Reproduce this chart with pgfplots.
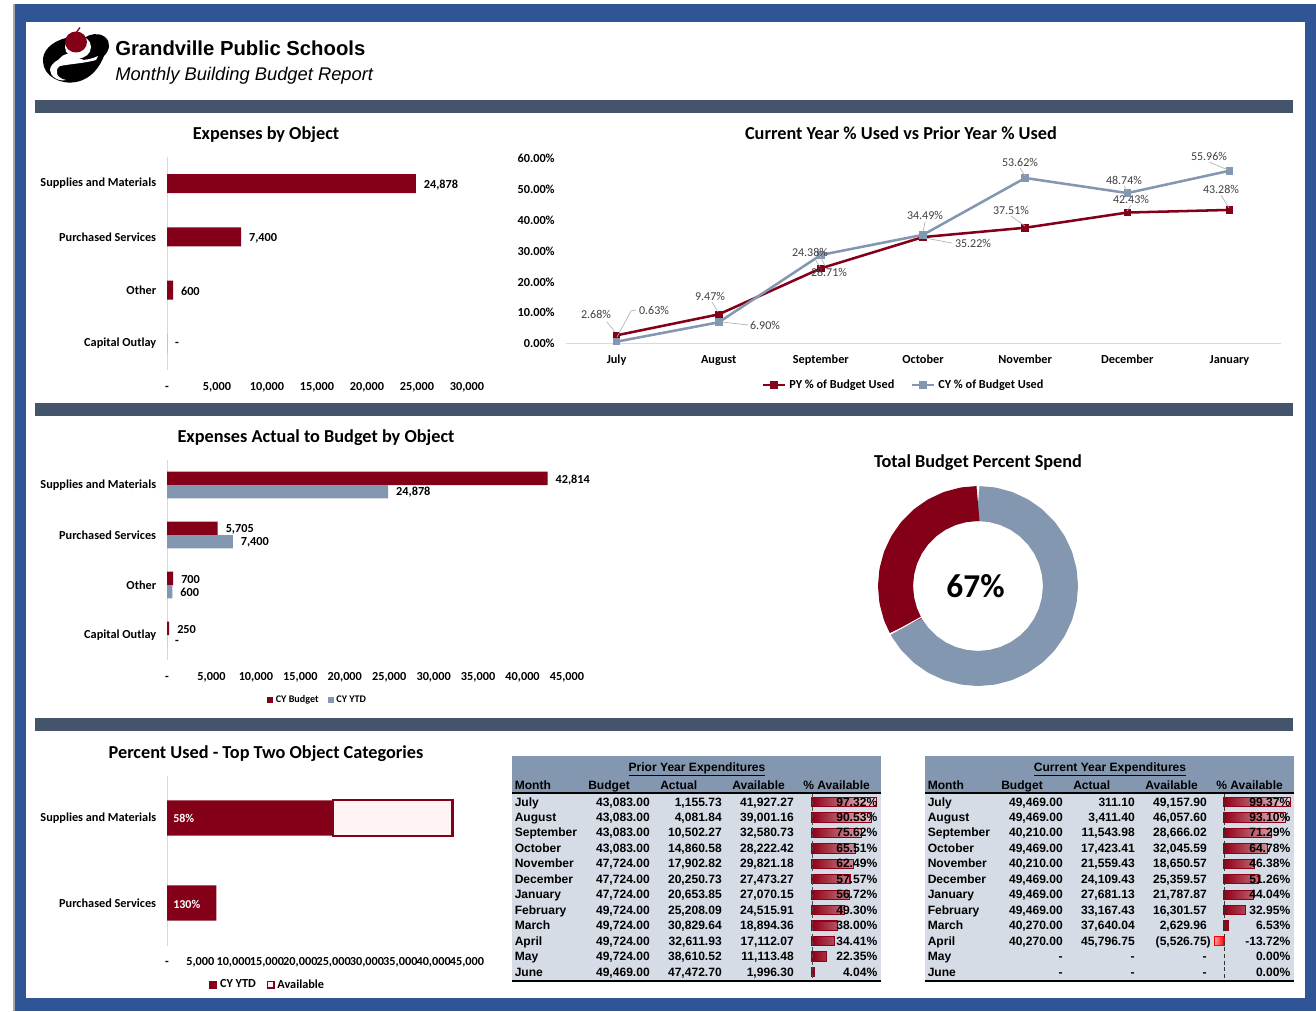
\documentclass[border=0pt]{standalone}
\usepackage{fontspec}
\usepackage{pgfplots}
\usepackage{pgfplotstable}
\pgfplotsset{compat=1.18}
\usepgfplotslibrary{polar}
\setmainfont{Carlito}
\newfontfamily\arial{Liberation Sans}
\definecolor{cRed}{HTML}{840018}
\definecolor{cGray}{HTML}{8497B0}
\definecolor{cBlue}{HTML}{2F5597}
\definecolor{cBand}{HTML}{44546A}
\definecolor{cBody}{HTML}{D6DCE5}
\definecolor{cPink}{HTML}{FFF3F4}
\definecolor{cAxis}{HTML}{D9D9D9}
\definecolor{cLab}{HTML}{404040}
\newcommand{\fz}[1]{\fontsize{#1}{#1}\selectfont}
\newcommand{\tickf}{\bfseries\fz{9.2}}
\pgfplotsset{
  base/.style={scale only axis, anchor=south west, major tick length=0pt, clip=false,
    tick label style={font=\tickf, text=black},
    scaled x ticks=false,
    xticklabel style={yshift=-5.6pt, text height=6pt, text depth=2pt},
    yticklabel style={xshift=-4.6pt},
    axis x line*=bottom, axis y line*=left,
    x axis line style={draw=none,-}, y axis line style={draw=cAxis,line width=0.7pt,-},
    xmin=0,
  },
  barlab/.style={nodes near coords, point meta=explicit symbolic,
    nodes near coords style={font=\tickf, text=black, anchor=west, xshift=2.5pt, yshift=#1}},
  barlab/.default=-0.8pt,
}
\newcommand{\trow}[7]{%
  \node[anchor=base west,inner sep=0pt] at (#1+514.5,#2+4.2) {#3};
  \node[anchor=base east,inner sep=0pt] at (#1+650,#2+4.2) {#4};
  \node[anchor=base east,inner sep=0pt] at (#1+722,#2+4.2) {#5};
  \node[anchor=base east,inner sep=0pt] at (#1+794,#2+4.2) {#6};
  \node[anchor=base east,inner sep=0pt] at (#1+877.5,#2+4.2) {#7};
}
\newcommand{\tframe}[2]{%
  \fill[cBody] (#1+512,794) rectangle (#1+881,980);
  \fill[cGray] (#1+512,756) rectangle (#1+881,793);
  \draw[black,line width=1.3pt] (#1+512,793) -- (#1+881,793);
  \draw[black,line width=1.5pt] (#1+512,980.5) -- (#1+881,980.5);
  \begin{scope}[every node/.style={inner sep=0pt,font=\arial\bfseries\fz{9.05}}]
  \node[anchor=base] at (#1+697,771) {\underline{#2}};
  \node[anchor=base west] at (#1+514.5,789.5) {Month};
  \node[anchor=base west] at (#1+588,789.5) {Budget};
  \node[anchor=base west] at (#1+660,789.5) {Actual};
  \node[anchor=base west] at (#1+732,789.5) {Available};
  \node[anchor=base west] at (#1+803,789.5) {\% Available};
  \end{scope}
}
\begin{document}
\begin{tikzpicture}
\useasboundingbox (0pt,0pt) rectangle (987pt,-758.25pt);
\begin{scope}[x=0.75pt,y=-0.75pt]
\fill[white] (0,0) rectangle (1316,1011);
\fill[cBlue] (14,4) rectangle (1316,1011);
\fill[black!35] (13,4) rectangle (15,1011);
\fill[white] (26,22) rectangle (1305,998);
% logo
\fill[black] (66,38) .. controls (50,42) and (42,52) .. (43,62)
  .. controls (44,76) and (60,85) .. (76,82)
  .. controls (92,79) and (100,66) .. (104,56)
  .. controls (110,50) and (111,42) .. (105,37)
  .. controls (98,32) and (90,34) .. (84,38) -- cycle;
\fill[white] (78,47) ellipse (13 and 11.5);
\fill[white] (58,60) .. controls (62,56) and (64,54) .. (68,54)
  -- (84,60) .. controls (90,59) and (94,58) .. (98,56) -- (96,60)
  .. controls (86,63) and (70,64) .. (60,66)
  .. controls (54,70) and (56,78) .. (66,80)
  .. controls (58,82) and (50,76) .. (50,70) .. controls (50,66) and (54,62) .. (58,60) -- cycle;
\fill[black] (74,71.5) ellipse (14 and 5.5);
\fill[cRed] (76,42) ellipse (11 and 10.5);
\draw[cRed,line width=1pt] (76,33) -- (80,27.5);
% heading
\node[anchor=west,inner sep=0pt,font=\arial\bfseries\fz{15.2}] at (115,48) {Grandville Public Schools};
\node[anchor=west,inner sep=0pt,font=\arial\itshape\fz{13.75}] at (115,76) {Monthly Building Budget Report};
% bands
\fill[cBand] (35,100) rectangle (1293,113);
\fill[cBand] (35,403) rectangle (1293,416);
\fill[cBand] (35,718) rectangle (1293,731);
% titles
\begin{scope}[every node/.style={inner sep=0pt,anchor=base,font=\bfseries\fz{13.7}}]
\node at (266,139.5) {Expenses by Object};
\node at (901,139.5) {Current Year \% Used vs Prior Year \% Used};
\node at (316,442.5) {Expenses Actual to Budget by Object};
\node at (978,467.5) {Total Budget Percent Spend};
\node at (266,758) {Percent Used - Top Two Object Categories};
\end{scope}
\coordinate (a1) at (167,370);
\coordinate (a2) at (565.5,343.6);
\coordinate (a3) at (167,660);
\coordinate (a4) at (978,586);
\coordinate (a5) at (167,945.5);
\coordinate (a6) at (812,979.7);
\coordinate (a7) at (1214.04,979.7);
% tables (background)
\tframe{0}{Prior Year Expenditures}
\tframe{413}{Current Year Expenditures}
\end{scope}

% ---------- Expenses by Object
\begin{axis}[base, at={(a1)}, width=225pt, height=159.75pt,
  xmax=30000, ymin=-0.5, ymax=3.5,
  xtick={0,5000,10000,15000,20000,25000,30000},
  xticklabels={-,{5,000},{10,000},{15,000},{20,000},{25,000},{30,000}},
  ytick={0,1,2,3},
  yticklabels={Capital Outlay,Other,Purchased Services,Supplies and Materials}]
\addplot[xbar, bar width=14.2pt, bar shift=0pt, fill=cRed, draw=none, barlab]
  table[x=v,y=c,meta=l]{
v c l
24878 3 24,878
7400 2 7,400
600 1 600
0 0 -
};
\end{axis}

% ---------- Line chart
\begin{axis}[base, at={(a2)}, width=536.3pt, height=139pt,
  xmin=-0.5, xmax=6.5, ymin=0, ymax=60,
  x axis line style={draw=cAxis,line width=0.7pt,-}, y axis line style={draw=none},
  xtick={0,1,2,3,4,5,6},
  xticklabels={July,August,September,October,November,December,January},
  ytick={0,10,20,30,40,50,60},
  yticklabels={0.00\%,10.00\%,20.00\%,30.00\%,40.00\%,50.00\%,60.00\%},
  legend columns=2,
  legend style={at={(0.473,-0.224)},anchor=center,draw=none,fill=none,font=\tickf,
    /tikz/every even column/.append style={column sep=10pt}},
  legend cell align=left]
\addplot[cRed, line width=1.9pt, mark=square*, mark size=1.9pt, mark options={solid,fill=cRed}]
  coordinates {(0,2.68)(1,9.47)(2,24.38)(3,34.49)(4,37.51)(5,42.43)(6,43.28)};
\addlegendentry{PY \% of Budget Used}
\addplot[cGray, line width=1.9pt, mark=square*, mark size=1.9pt, mark options={solid,fill=cGray}]
  coordinates {(0,0.63)(1,6.90)(2,28.71)(3,35.22)(4,53.62)(5,48.74)(6,55.96)};
\addlegendentry{CY \% of Budget Used}
\end{axis}

% ---------- Actual to Budget
\begin{axis}[base, at={(a3)}, width=300pt, height=150pt,
  xmax=45000, ymin=-0.5, ymax=3.5,
  xtick={0,5000,10000,15000,20000,25000,30000,35000,40000,45000},
  xticklabels={-,{5,000},{10,000},{15,000},{20,000},{25,000},{30,000},{35,000},{40,000},{45,000}},
  ytick={0,1,2,3},
  yticklabels={Capital Outlay,Other,Purchased Services,Supplies and Materials},
  legend columns=2,
  legend style={at={(0.3775,-0.2)},anchor=center,draw=none,fill=none,font=\bfseries\fz{7.6},
    /tikz/every even column/.append style={column sep=5pt},inner sep=0pt}]
\addplot[xbar, bar width=10.1pt, bar shift=5.05pt, fill=cRed, draw=none, barlab=4pt,
  legend image code/.code={\fill[cRed] (0pt,-2.2pt) rectangle (4.4pt,2.2pt);}]
  table[x=v,y=c,meta=l]{
v c l
42814 3 42,814
5705 2 5,705
700 1 700
250 0 250
};
\addlegendentry{CY Budget}
\addplot[xbar, bar width=10.1pt, bar shift=-5.05pt, fill=cGray, draw=none, barlab=-5.4pt,
  legend image code/.code={\fill[cGray] (0pt,-2.2pt) rectangle (4.4pt,2.2pt);}]
  table[x=v,y=c,meta=l]{
v c l
24878 3 24,878
7400 2 7,400
600 1 600
0 0 -
};
\addlegendentry{CY YTD}
\end{axis}

% ---------- Donut
\begin{polaraxis}[at={(a4)}, anchor=center, scale only axis, width=150pt, height=150pt,
  hide axis, ymin=0, ymax=100, clip=false]
\addplot[cGray, line width=26.25pt, line join=bevel, line cap=butt]
  coordinates {(90,82.5)(80,82.5)(70,82.5)(60,82.5)(50,82.5)(40,82.5)(30,82.5)(20,82.5)(10,82.5)(0,82.5)
  (-10,82.5)(-20,82.5)(-30,82.5)(-40,82.5)(-50,82.5)(-60,82.5)(-70,82.5)(-80,82.5)(-90,82.5)(-100,82.5)
  (-110,82.5)(-120,82.5)(-130,82.5)(-140,82.5)(-150,82.5)(-151.2,82.5)};
\addplot[cRed, line width=26.25pt, line join=bevel, line cap=butt]
  coordinates {(208.8,82.5)(200,82.5)(190,82.5)(180,82.5)(170,82.5)(160,82.5)(150,82.5)(140,82.5)(130,82.5)(120,82.5)(110,82.5)(100,82.5)(90,82.5)};
\addplot[white, line width=0.8pt] coordinates {(208.8,64)(208.8,101)};
\end{polaraxis}

% ---------- Percent used
\begin{axis}[base, at={(a5)}, width=225pt, height=127.5pt,
  xmax=45000, ymin=-0.5, ymax=1.5, xbar stacked, bar width=26.5pt,
  xtick={0,5000,10000,15000,20000,25000,30000,35000,40000,45000},
  xticklabels={-,{5,000},{10,000},{15,000},{20,000},{25,000},{30,000},{35,000},{40,000},{45,000}},
  ytick={0,1},
  yticklabels={Purchased Services,Supplies and Materials},
  legend columns=2,
  legend style={at={(0.337,-0.232)},anchor=center,draw=none,fill=none,font=\bfseries\fz{9.2},
    /tikz/every even column/.append style={column sep=6pt},inner sep=0pt}]
\addplot[fill=cRed, draw=none,
  legend image code/.code={\fill[cRed] (0pt,-3pt) rectangle (6pt,3pt);}]
  coordinates {(24878,1)(7400,0)};
\addlegendentry{CY YTD}
\addplot[fill=cPink, draw=cRed, line width=1.7pt,
  legend image code/.code={\filldraw[fill=cPink,draw=cRed,line width=1.2pt] (0.5pt,-2.5pt) rectangle (5.5pt,2.5pt);}]
  coordinates {(17936,1)(0,0)};
\addlegendentry{Available}
\end{axis}

% ---------- Data bars, prior year
\begin{axis}[at={(a6)}, anchor=south west, scale only axis, width=49.5pt, height=139.05pt,
  hide axis, clip=false, xmin=0, xmax=100, ymin=-0.5, ymax=11.5, y dir=reverse]
\addplot[xbar, bar width=7pt, bar shift=0pt, left color=cRed!90!red, right color=cRed!15!white, draw=cRed!90!red, line width=0.8pt]
  coordinates {(97.32,0)(90.53,1)(75.62,2)(65.51,3)(62.49,4)(57.57,5)(56.72,6)(49.30,7)(38.00,8)(34.41,9)(22.35,10)(4.04,11)};
\end{axis}
% ---------- Data bars, current year
\begin{axis}[at={(a7)}, anchor=south west, scale only axis, width=57.3pt, height=139.05pt,
  hide axis, clip=false, xmin=-15, xmax=100, ymin=-0.5, ymax=11.5, y dir=reverse]
\addplot[xbar, bar width=7pt, bar shift=0pt, left color=cRed!90!red, right color=cRed!15!white, draw=cRed!90!red, line width=0.8pt]
  coordinates {(99.37,0)(93.10,1)(71.29,2)(64.78,3)(46.38,4)(51.26,5)(44.04,6)(32.95,7)(6.53,8)};
\addplot[xbar, bar width=7pt, bar shift=0pt, left color=red!40!white, right color=red, draw=red, line width=0.8pt]
  coordinates {(-13.72,9)};
\end{axis}

\begin{scope}[x=0.75pt,y=-0.75pt]
\node[anchor=west,inner sep=0pt,text=white,font=\bfseries\fz{9}] at (173,818.5) {58\%};
\node[anchor=west,inner sep=0pt,text=white,font=\bfseries\fz{9}] at (173,904) {130\%};
\node[inner sep=0pt,font=\bfseries\fz{25}] at (975.5,586) {67\%};
\begin{scope}[draw=black!30,line width=0.5pt]
\draw (607,322) -- (615,332);
\draw (617,337) -- (631,311) -- (636,310);
\draw (712,302) -- (718,312);
\draw (722,322) -- (748,325);
\draw (815,259) -- (820,267);
\draw (825,266) -- (820,256);
\draw (925,222) -- (923,232);
\draw (925,238) -- (952,243);
\draw (1020,168) -- (1025,176);
\draw (1011,216) -- (1025,226);
\draw (1124,186) -- (1127,191);
\draw (1131,205) -- (1127,211);
\draw (1209,162) -- (1228,170);
\draw (1221,195) -- (1229,208);
\end{scope}
\begin{scope}[every node/.style={inner sep=0pt,text=cLab,font=\fz{9}}]
\node at (596,314) {2.68\%};
\node at (654,310) {0.63\%};
\node at (710,296) {9.47\%};
\node at (765,325) {6.90\%};
\node at (810,252) {24.38\%};
\node at (829,272) {28.71\%};
\node at (925,215) {34.49\%};
\node at (973,243) {35.22\%};
\node at (1020,162.5) {53.62\%};
\node at (1011,210) {37.51\%};
\node at (1124,180) {48.74\%};
\node at (1131,199) {42.43\%};
\node at (1209,156) {55.96\%};
\node at (1221,189) {43.28\%};
\end{scope}
\draw[black!70,densely dashed,line width=0.6pt] (812,794) -- (812,979);
\draw[black!80,densely dashed,line width=0.6pt] (1224,794) -- (1224,979);
\begin{scope}[every node/.style={text=black,font=\arial\bfseries\fz{9.05}}]
\trow{0}{802}{July}{43,083.00}{1,155.73}{41,927.27}{97.32\%}
\trow{0}{817}{August}{43,083.00}{4,081.84}{39,001.16}{90.53\%}
\trow{0}{832.5}{September}{43,083.00}{10,502.27}{32,580.73}{75.62\%}
\trow{0}{848}{October}{43,083.00}{14,860.58}{28,222.42}{65.51\%}
\trow{0}{863.5}{November}{47,724.00}{17,902.82}{29,821.18}{62.49\%}
\trow{0}{879}{December}{47,724.00}{20,250.73}{27,473.27}{57.57\%}
\trow{0}{894.5}{January}{47,724.00}{20,653.85}{27,070.15}{56.72\%}
\trow{0}{910}{February}{49,724.00}{25,208.09}{24,515.91}{49.30\%}
\trow{0}{925.5}{March}{49,724.00}{30,829.64}{18,894.36}{38.00\%}
\trow{0}{941}{April}{49,724.00}{32,611.93}{17,112.07}{34.41\%}
\trow{0}{956.5}{May}{49,724.00}{38,610.52}{11,113.48}{22.35\%}
\trow{0}{972}{June}{49,469.00}{47,472.70}{1,996.30}{4.04\%}
\trow{413}{802}{July}{49,469.00}{311.10}{49,157.90}{99.37\%}
\trow{413}{817}{August}{49,469.00}{3,411.40}{46,057.60}{93.10\%}
\trow{413}{832.5}{September}{40,210.00}{11,543.98}{28,666.02}{71.29\%}
\trow{413}{848}{October}{49,469.00}{17,423.41}{32,045.59}{64.78\%}
\trow{413}{863.5}{November}{40,210.00}{21,559.43}{18,650.57}{46.38\%}
\trow{413}{879}{December}{49,469.00}{24,109.43}{25,359.57}{51.26\%}
\trow{413}{894.5}{January}{49,469.00}{27,681.13}{21,787.87}{44.04\%}
\trow{413}{910}{February}{49,469.00}{33,167.43}{16,301.57}{32.95\%}
\trow{413}{925.5}{March}{40,270.00}{37,640.04}{2,629.96}{6.53\%}
\trow{413}{941}{April}{40,270.00}{45,796.75}{}{-13.72\%}
\node[anchor=base east,inner sep=0pt] at (1211,945.2) {(5,526.75)};
\trow{413}{956.5}{May}{-}{-}{-}{0.00\%}
\trow{413}{972}{June}{-}{-}{-}{0.00\%}
\end{scope}
\end{scope}
\end{tikzpicture}
\end{document}
